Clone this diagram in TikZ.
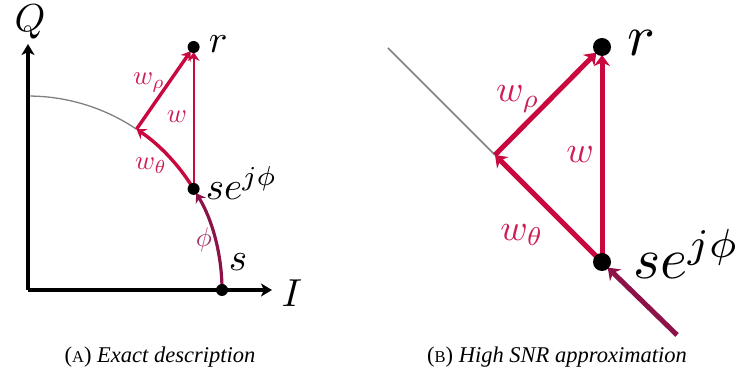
\documentclass[tikz,border=0pt]{standalone}
\usepackage[no-math]{fontspec}
\newfontfamily\capfont{Liberation Serif}
\usetikzlibrary{arrows.meta}
\definecolor{wred}{RGB}{200,8,62}
\definecolor{wlab}{RGB}{205,30,85}
\definecolor{phic}{RGB}{140,18,72}
\definecolor{philab}{RGB}{165,50,105}
\tikzset{
  dotL/.style={circle,fill=black,inner sep=0pt,minimum size=12pt},
  dotR/.style={circle,fill=black,inner sep=0pt,minimum size=18pt},
  axis/.style={line width=4pt,-{Stealth[length=11pt,width=13pt,inset=3pt]}},
  vecL/.style={wred,line width=3.4pt,-{Stealth[length=9pt,width=12pt,inset=3pt]}},
  vecLthin/.style={wred,line width=2.2pt,-{Stealth[length=9pt,width=12pt,inset=3pt]}},
  phiL/.style={phic,line width=3.2pt,-{Stealth[length=9pt,width=12pt,inset=3pt]}},
  vecR/.style={wred,line width=5pt,-{Stealth[length=11pt,width=16pt,inset=3.5pt]}},
  phiR/.style={phic,line width=5pt,-{Stealth[length=11pt,width=16pt,inset=3.5pt]}},
  grayarc/.style={gray,line width=1.3pt},
  bigL/.style={scale=3.9},
  bigR/.style={scale=5.8},
  labL/.style={text=wlab,scale=2.7},
  labR/.style={text=wlab,scale=3.7},
  capt/.style={font=\capfont\fontsize{22.5}{26}\selectfont}
}
\newcommand{\capsc}[1]{{\fontsize{16.5}{19}\selectfont #1}}
\begin{document}
\begin{tikzpicture}[x=1pt,y=1pt]
\useasboundingbox (0,0) rectangle (742,380);
% ---------- left: exact description ----------
\coordinate (O) at (28,90);
\coordinate (Qend) at (28,336);
\coordinate (Iend) at (272,90);
\coordinate (s) at (222,90);
\coordinate (se) at (193.6,191.1);
\coordinate (c) at (136.5,250.8);
\coordinate (r) at (193.6,333);
\draw[grayarc] (c) arc[start angle=56, end angle=90, radius=194];
\draw[axis] (O) -- (Qend);
\draw[axis] (O) -- (Iend);
\draw[phiL,shorten >=5pt] (s) arc[start angle=0, end angle=31.4, radius=194];
\draw[vecL] (se) arc[start angle=31.4, end angle=56, radius=194];
\draw[vecL,shorten >=5pt] (c) -- (r);
\draw[vecLthin,shorten >=5pt] (se) -- (r);
\node[dotL] (sdot) at (s) {};
\node[dotL] (sedot) at (se) {};
\node[dotL] (rdot) at (r) {};
\node[bigL] (Qlab) at (30,358) {$Q$};
\node[bigL] (Ilab) at (292,87) {$I$};
\node[bigL] (slab) at (238,118) {$s$};
\node[bigL,anchor=west,inner sep=0pt] (selab) at (205,197) {$se^{j\phi}$};
\node[bigL,anchor=west,inner sep=0pt] (rlab) at (208,336) {$r$};
\node[labL] (wrho) at (149,297) {$w_\rho$};
\node[labL] (w) at (177,263) {$w$};
\node[labL] (wth) at (151,214) {$w_\theta$};
\node[text=philab,scale=2.7] (phil) at (204,140) {$\phi$};
% ---------- right: high SNR approximation ----------
\coordinate (g0) at (388,332);
\coordinate (cR) at (495,225);
\coordinate (seR) at (602,118);
\coordinate (rR) at (602,333);
\coordinate (pin) at (677,45);
\draw[grayarc,line width=1.5pt] (g0) -- (cR);
\draw[phiR,shorten >=8pt] (pin) -- (seR);
\draw[vecR] (seR) -- (cR);
\draw[vecR,shorten >=8pt] (cR) -- (rR);
\draw[vecR,shorten >=8pt] (seR) -- (rR);
\node[dotR] (seRdot) at (seR) {};
\node[dotR] (rRdot) at (rR) {};
\node[bigR,anchor=west,inner sep=0pt] (rRlab) at (626,337) {$r$};
\node[bigR,anchor=west,inner sep=0pt] (seRlab) at (632,126) {$se^{j\phi}$};
\node[labR] (wrhoR) at (518,281) {$w_\rho$};
\node[labR] (wR) at (580,225) {$w$};
\node[labR] (wthR) at (522,145) {$w_\theta$};
% ---------- captions ----------
\node[capt] (capA) at (160,23) {(\capsc{A}) \textit{Exact description}};
\node[capt] (capB) at (557,23) {(\capsc{B}) \textit{High SNR approximation}};
\end{tikzpicture}
\end{document}
